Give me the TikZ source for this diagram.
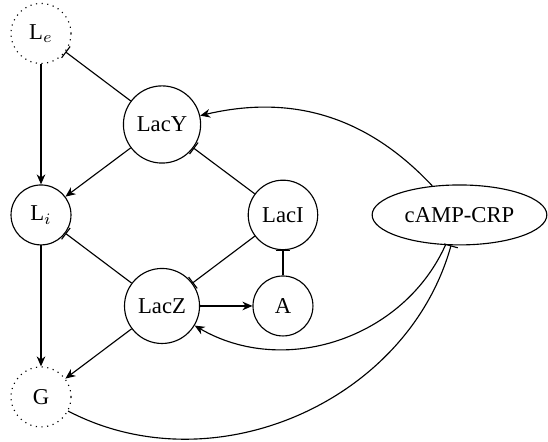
\documentclass[tikz,border=0pt]{standalone}
\usepackage{fontspec}
\setmainfont{Liberation Serif}
\usetikzlibrary{arrows.meta}
\usetikzlibrary{shapes.geometric}

\begin{document}
\begin{tikzpicture}[line width=0.5pt,
    species/.style={draw, circle, inner sep=4.2pt, minimum size=0.93cm},
    pool/.style={species, dotted},
    act/.style={-{Stealth[length=4.4pt, width=3.8pt, inset=1.4pt]}},
    inh/.style={-{Bar[width=2.2mm]}}]
    \newcommand\colL{0.636}
    \newcommand\colM{2.513}
    \newcommand\colR{4.389}
    \newcommand\colC{7.127}
    \newcommand\rowTop{6.336}
    \newcommand\rowUp{4.924}
    \newcommand\rowMid{3.521}
    \newcommand\rowLow{2.109}
    \newcommand\rowBot{0.698}

    \useasboundingbox (0, 0) rectangle (8.5, 6.855);

    \node[pool] (le) at (\colL, \rowTop) {L$_e$};
    \node[species] (lacy) at (\colM, \rowUp) {LacY};
    \node[species] (li) at (\colL, \rowMid) {L$_i$};
    \node[species] (laci) at (\colR, \rowMid) {LacI};
    \node[draw, ellipse, inner sep=0pt, minimum width=2.71cm, minimum height=0.93cm]
        (camp) at (\colC, \rowMid) {cAMP-CRP};
    \node[species] (lacz) at (\colM, \rowLow) {LacZ};
    \node[species] (a) at (\colR, \rowLow) {A};
    \node[pool] (g) at (\colL, \rowBot) {G};

    \draw[act] (le) -- (li);
    \draw[act] (li) -- (g);
    \draw[act] (lacy) -- (li);
    \draw[act] (lacz) -- (g);
    \draw[act] (lacz) -- (a);

    \draw[inh] (lacy) -- (le);
    \draw[inh] (laci) -- (lacy);
    \draw[inh] (lacz) -- (li);
    \draw[inh] (laci) -- (lacz);
    \draw[inh] (a) -- (laci);

    \draw[act] (camp) to[bend right=30] (lacy);
    \draw[act] (camp) to[bend left=48] (lacz);
    \draw[inh] (g) to[bend right=51] (camp);
\end{tikzpicture}
\end{document}
